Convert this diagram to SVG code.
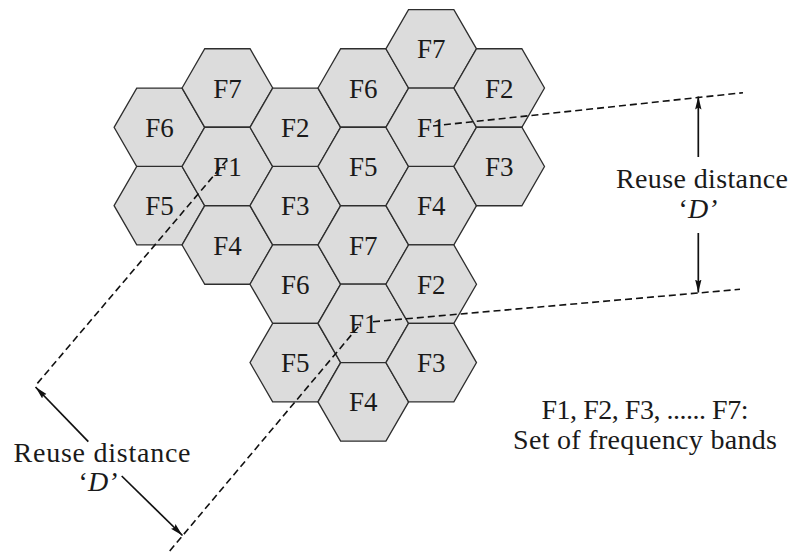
<svg xmlns="http://www.w3.org/2000/svg" xmlns:xlink="http://www.w3.org/1999/xlink" width="793" height="553" viewBox="0 0 793 553">
<style>
.hex{fill:#dcdcdc;stroke:#2e2e2e;stroke-width:1.3;stroke-linejoin:miter}
.lbl{font-family:"Liberation Serif","Times New Roman",serif;font-size:27px;fill:#1a1a1a;text-anchor:middle}
.txt{font-family:"Liberation Serif","Times New Roman",serif;font-size:28px;fill:#1a1a1a;text-anchor:middle}
.dash{fill:none;stroke:#111;stroke-width:1.6;stroke-dasharray:7 4}
.arr{fill:none;stroke:#111;stroke-width:1.7;marker-end:url(#ah)}
</style>
<defs>
<polygon id="hex" class="hex" points="-45.3,0 -22.65,-39.23 22.65,-39.23 45.3,0 22.65,39.23 -22.65,39.23"/>
<marker id="ah" markerUnits="userSpaceOnUse" markerWidth="14" markerHeight="8" refX="13" refY="4" orient="auto">
<path d="M0,0.8 L13,4 L0,7.2 L2,4 z" fill="#111"/>
</marker>
</defs>
<rect width="793" height="553" fill="#ffffff"/>
<g id="cells">
<g id="c1-F6"><use xlink:href="#hex" x="159.4" y="127.3"/><text class="lbl" x="159.4" y="136.8">F6</text></g>
<g id="c1-F5"><use xlink:href="#hex" x="159.4" y="205.7"/><text class="lbl" x="159.4" y="215.2">F5</text></g>
<g id="c2-F7"><use xlink:href="#hex" x="227.4" y="88.0"/><text class="lbl" x="227.4" y="97.5">F7</text></g>
<g id="c2-F1"><use xlink:href="#hex" x="227.4" y="166.5"/><text class="lbl" x="227.4" y="176.0">F1</text></g>
<g id="c2-F4"><use xlink:href="#hex" x="227.4" y="245.0"/><text class="lbl" x="227.4" y="254.5">F4</text></g>
<g id="c3-F2"><use xlink:href="#hex" x="295.3" y="127.3"/><text class="lbl" x="295.3" y="136.8">F2</text></g>
<g id="c3-F3"><use xlink:href="#hex" x="295.3" y="205.7"/><text class="lbl" x="295.3" y="215.2">F3</text></g>
<g id="c3-F6"><use xlink:href="#hex" x="295.3" y="284.2"/><text class="lbl" x="295.3" y="293.7">F6</text></g>
<g id="c3-F5"><use xlink:href="#hex" x="295.3" y="362.6"/><text class="lbl" x="295.3" y="372.1">F5</text></g>
<g id="c4-F6"><use xlink:href="#hex" x="363.3" y="88.0"/><text class="lbl" x="363.3" y="97.5">F6</text></g>
<g id="c4-F5"><use xlink:href="#hex" x="363.3" y="166.5"/><text class="lbl" x="363.3" y="176.0">F5</text></g>
<g id="c4-F7"><use xlink:href="#hex" x="363.3" y="245.0"/><text class="lbl" x="363.3" y="254.5">F7</text></g>
<g id="c4-F1"><use xlink:href="#hex" x="363.3" y="323.4"/><text class="lbl" x="363.3" y="332.9">F1</text></g>
<g id="c4-F4"><use xlink:href="#hex" x="363.3" y="401.9"/><text class="lbl" x="363.3" y="411.4">F4</text></g>
<g id="c5-F7"><use xlink:href="#hex" x="431.2" y="48.8"/><text class="lbl" x="431.2" y="58.3">F7</text></g>
<g id="c5-F1"><use xlink:href="#hex" x="431.2" y="127.3"/><text class="lbl" x="431.2" y="136.8">F1</text></g>
<g id="c5-F4"><use xlink:href="#hex" x="431.2" y="205.7"/><text class="lbl" x="431.2" y="215.2">F4</text></g>
<g id="c5-F2"><use xlink:href="#hex" x="431.2" y="284.2"/><text class="lbl" x="431.2" y="293.7">F2</text></g>
<g id="c5-F3"><use xlink:href="#hex" x="431.2" y="362.6"/><text class="lbl" x="431.2" y="372.1">F3</text></g>
<g id="c6-F2"><use xlink:href="#hex" x="499.2" y="88.0"/><text class="lbl" x="499.2" y="97.5">F2</text></g>
<g id="c6-F3"><use xlink:href="#hex" x="499.2" y="166.5"/><text class="lbl" x="499.2" y="176.0">F3</text></g>
</g>
<g id="connectors">
<line class="dash" x1="433" y1="126" x2="743" y2="92.7"/>
<line class="dash" x1="373" y1="321.7" x2="740" y2="289.3"/>
<line class="dash" x1="227" y1="160" x2="36" y2="385"/>
<line class="dash" x1="358.3" y1="326.7" x2="168" y2="553"/>
<line class="arr" x1="698.3" y1="157" x2="698.3" y2="96.5"/>
<line class="arr" x1="698.3" y1="233" x2="698.3" y2="292.5"/>
<line class="arr" x1="88.3" y1="441.7" x2="35.5" y2="387"/>
<line class="arr" x1="121.7" y1="476" x2="182.5" y2="535.5"/>
</g>
<g id="labels">
<text class="txt" x="702" y="188" textLength="172">Reuse distance</text>
<text class="txt" x="698" y="218">‘<tspan font-style="italic">D’</tspan></text>
<text class="txt" x="102" y="462" textLength="177">Reuse distance</text>
<text class="txt" x="98" y="491">‘<tspan font-style="italic">D’</tspan></text>
<text class="txt" x="645" y="419" textLength="207">F1, F2, F3, ...... F7:</text>
<text class="txt" x="645" y="449" textLength="264">Set of frequency bands</text>
</g>
</svg>
